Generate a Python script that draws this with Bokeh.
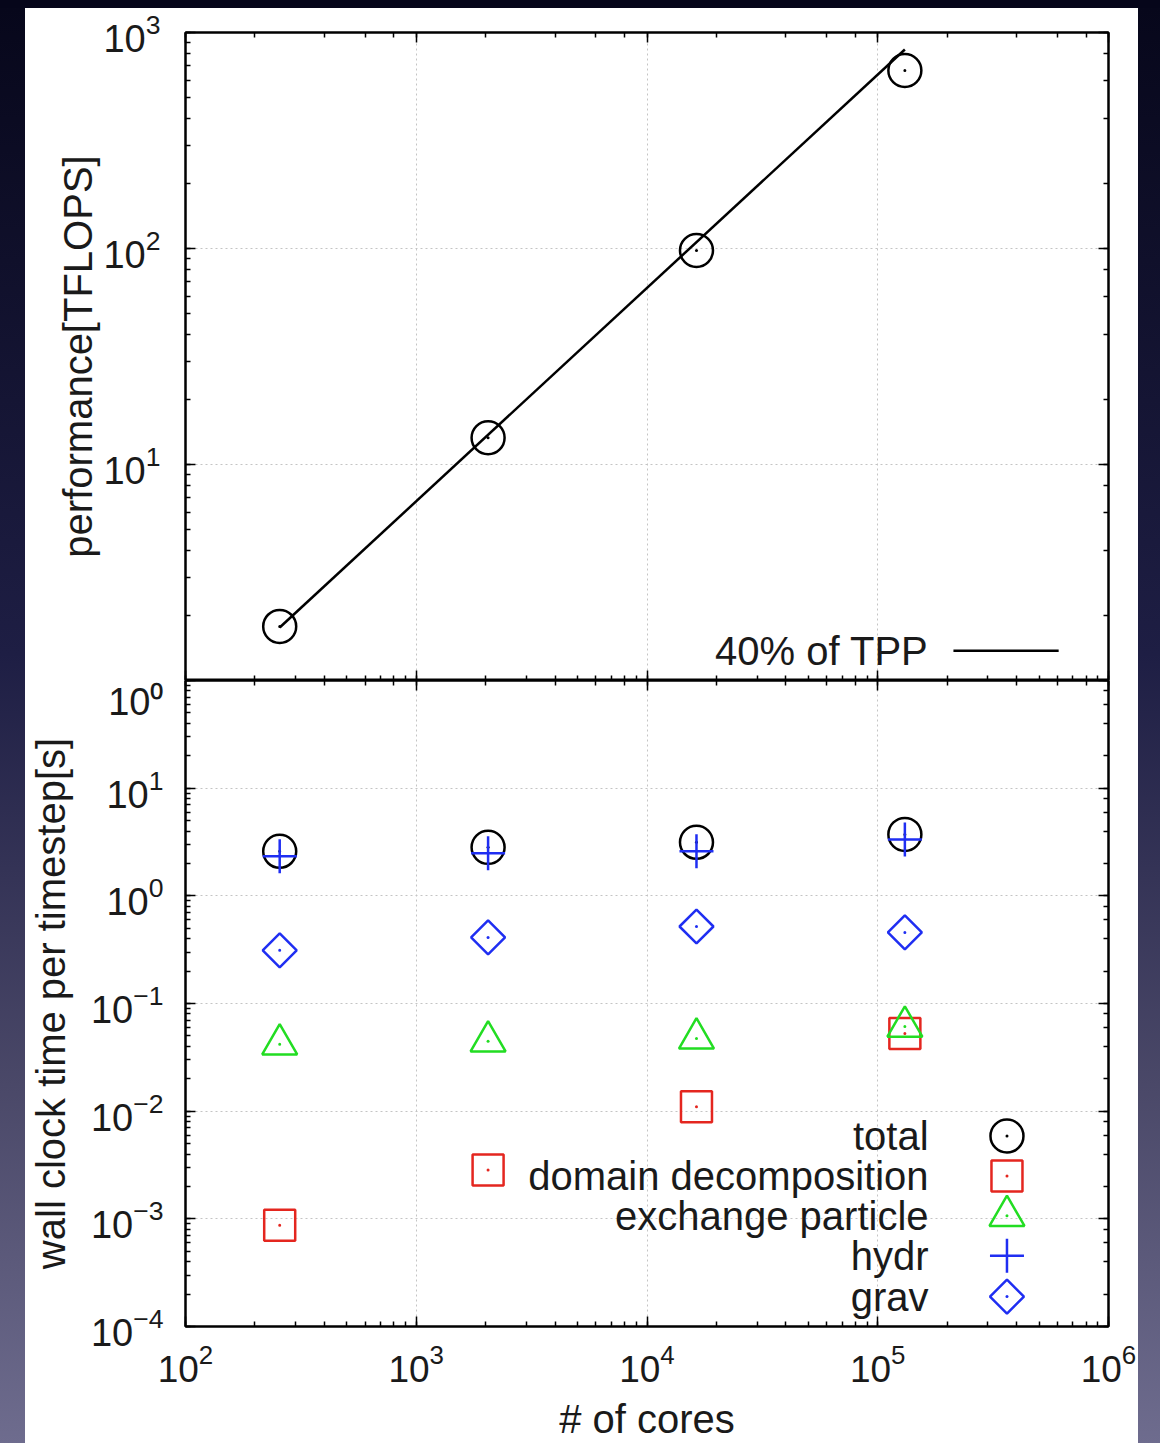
import math
from bokeh.plotting import figure
from bokeh.models import LogAxis, LogTicker, CustomJSTickFormatter, Spacer, Range1d
from bokeh.layouts import column, row
from bokeh.embed import file_html
from bokeh.resources import INLINE
from bokeh.core.properties import value

# ---------------- data ----------------
cores = [256, 2048, 16384, 131072]

# upper panel: sustained performance [TFLOPS]
performance = [1.78, 13.3, 97.9, 667.0]
# "40% of TPP" reference line (end points)
tpp_cores = [256, 131072]
tpp_performance = [1.76, 834.0]

# lower panel: wall clock time per timestep [s]
total = [2.59, 2.82, 3.14, 3.72]
domain_decomposition = [8.7e-4, 2.84e-3, 0.011, 0.0527]
exchange_particle = [0.0418, 0.0445, 0.0474, 0.0611]
hydr = [2.33, 2.49, 2.59, 3.34]
grav = [0.312, 0.411, 0.519, 0.457]

series_names = ["total", "domain decomposition", "exchange particle", "hydr", "grav"]

# label shown on the seam between both panels (upper panel's lowest tick)
seam_label = "10\u2070"

# ---------------- style ----------------
FONT = "Liberation Sans"
INK = "#1a1a1a"
GRID = "#c4c4c4"
RED = "#e4261f"
GREEN = "#22dd22"
BLUE = "#1f2ef2"

X_RANGE = (1e2, 1e6)
TOP_Y = (1.0, 1e3)
BOT_Y = (1e-4, 1e2)
FIG_W = 1113


def fx(f):
    lo, hi = math.log10(X_RANGE[0]), math.log10(X_RANGE[1])
    return 10 ** (lo + f * (hi - lo))


def fy(f, yr):
    lo, hi = math.log10(yr[0]), math.log10(yr[1])
    return 10 ** (lo + f * (hi - lo))


def style_axis(ax, show_labels, tick_font="37px", tick_standoff=22, label_standoff=8):
    ax.axis_line_width = 2
    ax.axis_line_color = "black"
    ax.major_tick_in = 10
    ax.major_tick_out = 0
    ax.minor_tick_in = 5
    ax.minor_tick_out = 0
    ax.major_tick_line_width = 1.5
    ax.minor_tick_line_width = 1.5
    ax.major_tick_line_color = "black"
    ax.minor_tick_line_color = "black"
    ax.major_label_text_font = FONT
    ax.major_label_text_font_size = tick_font
    ax.major_label_text_color = INK
    ax.axis_label_text_font = FONT
    ax.axis_label_text_font_size = "40px"
    ax.axis_label_text_font_style = "normal"
    ax.axis_label_text_color = INK
    if show_labels:
        ax.major_label_standoff = tick_standoff
        ax.axis_label_standoff = label_standoff
    else:
        ax.formatter = CustomJSTickFormatter(code="return ''")
        ax.major_label_standoff = 0
        ax.axis_label_standoff = 0


def make_fig(height, yr, mb_top, mb_bottom, show_x_labels, ylabel, ytick_standoff,
             ylabel_standoff, xlabel=None):
    p = figure(width=FIG_W, height=height,
               x_axis_type="log", y_axis_type="log",
               x_range=Range1d(*X_RANGE), y_range=Range1d(*yr),
               output_backend="svg", toolbar_location=None,
               min_border_left=158, min_border_right=30,
               min_border_top=mb_top, min_border_bottom=mb_bottom,
               background_fill_color="white", border_fill_color="white",
               outline_line_color="black", outline_line_width=2)
    p.add_layout(LogAxis(ticker=LogTicker()), "above")
    p.add_layout(LogAxis(ticker=LogTicker()), "right")
    for ax in p.below:
        style_axis(ax, show_x_labels, "37px", 17, 12)
        if xlabel:
            ax.axis_label = xlabel
    for ax in p.left:
        style_axis(ax, True, "38px", ytick_standoff, ylabel_standoff)
        ax.axis_label = ylabel
    for ax in p.above + p.right:
        style_axis(ax, False)
    for g in (p.xgrid[0], p.ygrid[0]):
        g.grid_line_color = GRID
        g.grid_line_dash = "2 3"
        g.grid_line_width = 1
    return p


# ---------------- top panel ----------------
p1 = make_fig(672, TOP_Y, 24, 0, False, "performance[TFLOPS]", 25, 0)
# its lowest label is shown by the lower panel, on the shared edge
p1.left[0].major_label_overrides = {1: ""}

p1.line(tpp_cores, tpp_performance, line_color="black", line_width=2.5)
p1.scatter(cores, performance, marker="circle", size=33, fill_color=None,
           line_color="black", line_width=2.5)
p1.scatter(cores, performance, marker="circle", size=3, fill_color="black", line_color=None)

leg_y_top = fy(0.046, TOP_Y)
p1.text(x=[fx(0.805)], y=[leg_y_top], text=["40% of TPP"], text_align="right",
        text_baseline="middle", text_font=value(FONT), text_font_size="40px",
        text_color=INK)
p1.line([fx(0.832), fx(0.946)], [leg_y_top, leg_y_top], line_color="black", line_width=2.5)

# ---------------- bottom panel ----------------
p2 = make_fig(763, BOT_Y, 0, 115, True, "wall clock time per timestep[s]", 22, 15,
              "# of cores")
p2.left[0].major_label_overrides = {100: seam_label}

specs = [
    (total, "circle", "black", 33, 0.0, True),
    (domain_decomposition, "square", RED, 31, 0.0, True),
    (exchange_particle, "triangle", GREEN, 35, 0.0, True),
    (hydr, "cross", BLUE, 34, 0.0, False),
    (grav, "square", BLUE, 24, math.pi / 4, True),
]
legend_rows = [0.2948, 0.2330, 0.1713, 0.1096, 0.0463]

for (vals, marker, color, size, ang, dot), name, row_f in zip(specs, series_names, legend_rows):
    ly = fy(row_f, BOT_Y)
    xs = cores + [fx(0.890)]
    ys = vals + [ly]
    p2.scatter(xs, ys, marker=marker, size=size, angle=ang, fill_color=None,
               line_color=color, line_width=2.5)
    if dot:
        p2.scatter(xs, ys, marker="circle", size=3, fill_color=color, line_color=None)
    p2.text(x=[fx(0.805)], y=[ly], text=[name], text_align="right", text_baseline="middle",
            text_font=value(FONT), text_font_size="40px", text_color=INK)

# ---------------- page frame (slide background strips) ----------------
grad = "linear-gradient(#07071b, #1e1e44 45%, #4a4868 75%, #6e6c8e)"
top_strip = Spacer(width=1160, height=8, styles={"background": "#06061a"})
left_strip = Spacer(width=25, height=1435, styles={"background": grad})
right_strip = Spacer(width=22, height=1435, styles={"background": grad})

layout = column(top_strip,
                row(left_strip, column(p1, p2, spacing=0), right_strip, spacing=0),
                spacing=0)

open("out.html", "w").write(file_html(layout, INLINE))
